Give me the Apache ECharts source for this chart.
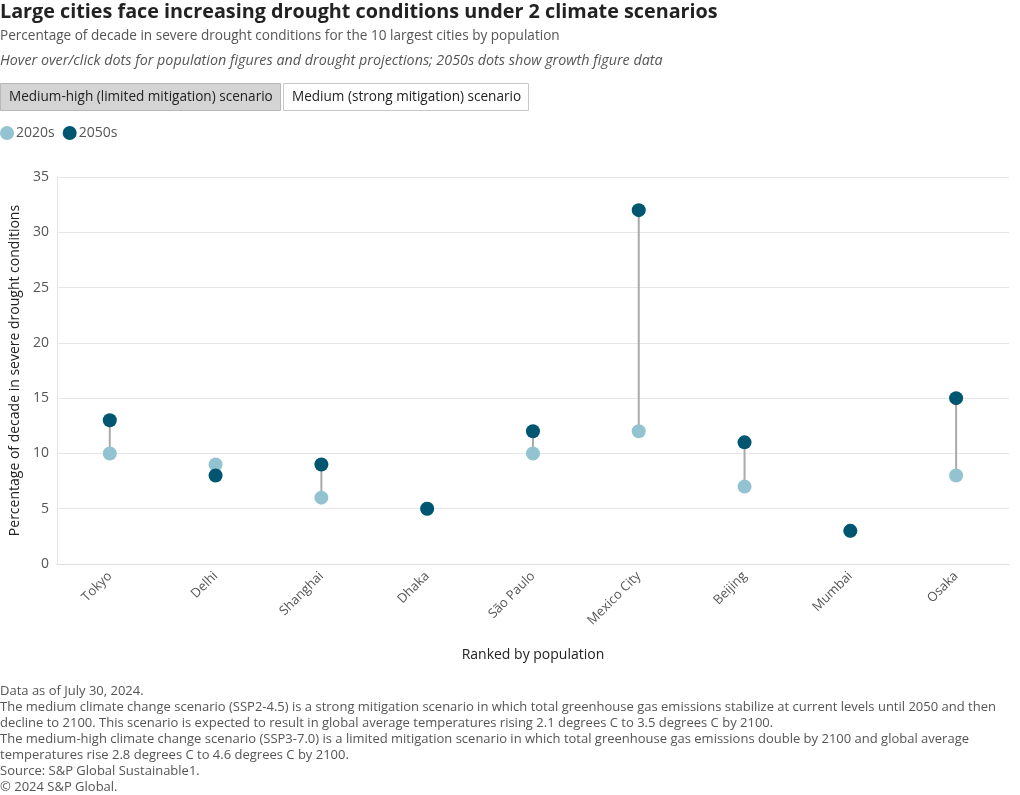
<!DOCTYPE html>
<html><head><meta charset="utf-8">
<script src="https://cdn.jsdelivr.net/npm/echarts@6/dist/echarts.min.js"></script>
<style>html,body{margin:0;padding:0;background:#fff}#c{width:1020px;height:795px}</style>
</head><body><div id="c"></div>
<script>
const cities = ["Tokyo","Delhi","Shanghai","Dhaka","São Paulo","Mexico City","Beijing","Mumbai","Osaka"];
const v2020s = [10, 9, 6, 5, 10, 12, 7, 3, 8];
const v2050s = [13, 8, 9, 5, 12, 32, 11, 3, 15];
const yTicks = [0, 5, 10, 15, 20, 25, 30, 35];
const titleText = "Large cities face increasing drought conditions under 2 climate scenarios";
const subtitleText = "Percentage of decade in severe drought conditions for the 10 largest cities by population";
const noteText = "Hover over/click dots for population figures and drought projections; 2050s dots show growth figure data";
const buttons = ["Medium-high (limited mitigation) scenario", "Medium (strong mitigation) scenario"];
const footnotes = [
  "Data as of July 30, 2024.",
  "The medium climate change scenario (SSP2-4.5) is a strong mitigation scenario in which total greenhouse gas emissions stabilize at current levels until 2050 and then",
  "decline to 2100. This scenario is expected to result in global average temperatures rising 2.1 degrees C to 3.5 degrees C by 2100.",
  "The medium-high climate change scenario (SSP3-7.0) is a limited mitigation scenario in which total greenhouse gas emissions double by 2100 and global average",
  "temperatures rise 2.8 degrees C to 4.6 degrees C by 2100.",
  "Source: S&P Global Sustainable1.",
  "© 2024 S&P Global."
];
const FAM = "'Open Sans', Roboto, sans-serif";
const FONT = FAM;
const LIGHT = "#93c3d0", DARK = "#005670";

const ctx = document.createElement('canvas').getContext('2d');
function fit(text, style, target, maxSize) {
  ctx.font = style + " 20px " + FAM;
  const w = ctx.measureText(text).width;
  return Math.min(maxSize, 20 * target / w);
}
const tSize = fit(titleText, "bold", 718, 22);
const sSize = fit(subtitleText, "", 560, 15);
const nSize = fit(noteText, "italic", 663, 15);
const bSize = fit(buttons[0], "", 264, 15);
const fSize = fit(footnotes[1], "", 997, 14);

const chart = echarts.init(document.getElementById('c'), null, {renderer: 'canvas'});
const graphics = [
  {type:'text', left:0, top:2, style:{text:titleText, font:"bold " + tSize + "px " + FONT, fill:"#222"}},
  {type:'text', left:0, top:29, style:{text:subtitleText, font:sSize + "px " + FONT, fill:"#555"}},
  {type:'text', left:0, top:54, style:{text:noteText, font:"italic " + nSize + "px " + FONT, fill:"#555"}},
  {type:'rect', left:0, top:83, shape:{width:280, height:27}, style:{fill:"#d4d4d4", stroke:"#b8b8b8", lineWidth:1}},
  {type:'text', left:9, top:90, style:{text:buttons[0], font:bSize + "px " + FONT, fill:"#222"}},
  {type:'rect', left:283, top:83, shape:{width:245, height:27}, style:{fill:"#fff", stroke:"#c8c8c8", lineWidth:1}},
  {type:'text', left:292, top:90, style:{text:buttons[1], font:bSize + "px " + FONT, fill:"#222"}}
];
footnotes.forEach((t, i) => graphics.push({type:'text', left:0, top:685 + i*16, style:{text:t, font:fSize + "px " + FONT, fill:"#555"}}));

chart.setOption({
  animation:false,
  textStyle:{fontFamily:FONT},
  graphic: graphics,
  legend:{left:0, top:126, padding:0, itemWidth:14, itemHeight:14, itemGap:8, icon:'circle',
    data:['2020s','2050s'], textStyle:{fontSize:14, color:'#555', padding:[0,0,0,-3], fontFamily:FONT}},
  grid:{left:54, right:11, top:177, bottom:231},
  xAxis:{type:'category', data:cities, boundaryGap:true,
    axisLine:{lineStyle:{color:'#ddd'}}, axisTick:{show:false},
    axisLabel:{rotate:45, color:'#555', fontSize:13, margin:10},
    name:'Ranked by population', nameLocation:'middle', nameGap:84,
    nameTextStyle:{color:'#222', fontSize:14}},
  yAxis:{type:'value', min:0, max:35, interval:5,
    axisLine:{show:true, lineStyle:{color:'#e6e6e6'}},
    splitLine:{lineStyle:{color:'#e6e6e6'}},
    axisLabel:{color:'#555', fontSize:14, margin:8, formatter: v => yTicks.includes(v) ? String(v) : ''},
    name:'Percentage of decade in severe drought conditions', nameLocation:'middle', nameGap:31,
    nameTextStyle:{color:'#222', fontSize:14}},
  series:[
    {type:'custom', name:'connector', silent:true, z:1,
      data: cities.map((c, i) => [i, v2020s[i], v2050s[i]]),
      renderItem:(params, api) => {
        const p1 = api.coord([api.value(0), api.value(1)]);
        const p2 = api.coord([api.value(0), api.value(2)]);
        return {type:'line', shape:{x1:p1[0], y1:p1[1], x2:p2[0], y2:p2[1]},
          style:{stroke:'#aaa', lineWidth:2}};
      }},
    {type:'scatter', name:'2020s', data:v2020s, symbolSize:14, z:2, itemStyle:{color:LIGHT, opacity:1}},
    {type:'scatter', name:'2050s', data:v2050s, symbolSize:14, z:3, itemStyle:{color:DARK, opacity:1}}
  ]
});
</script></body></html>
